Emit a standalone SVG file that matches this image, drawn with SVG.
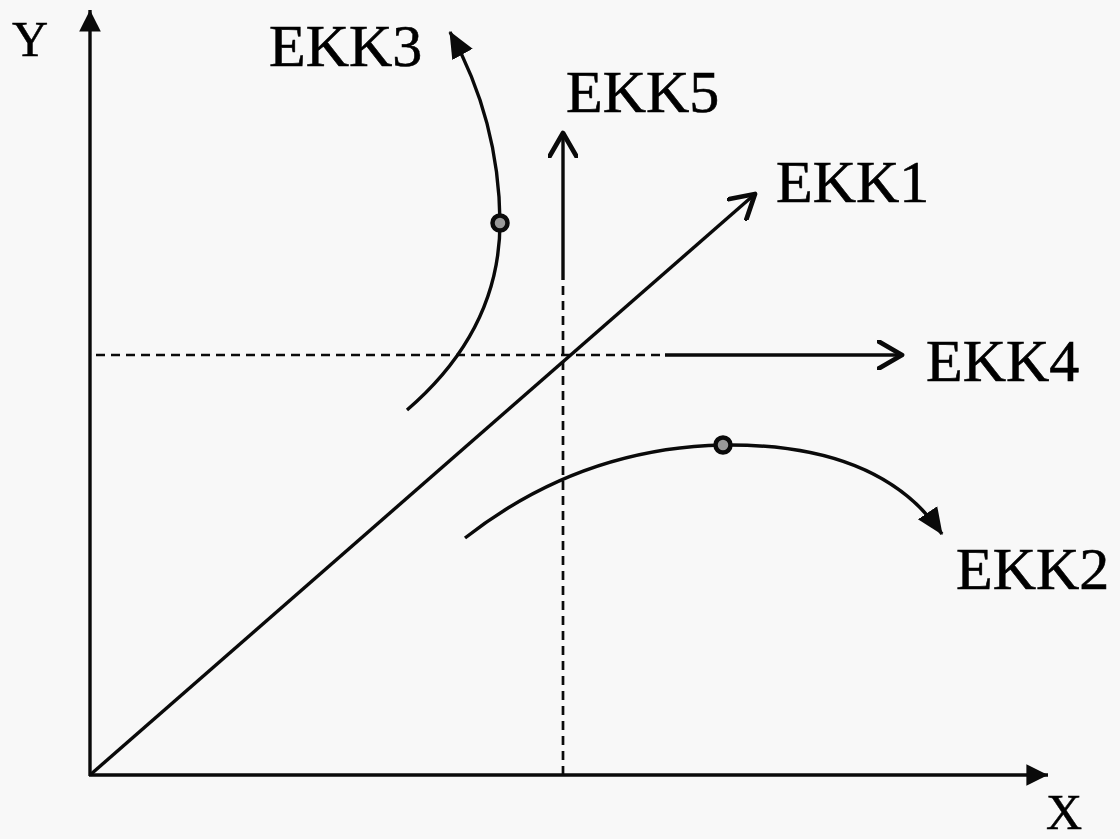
<svg xmlns="http://www.w3.org/2000/svg" width="1120" height="839" viewBox="0 0 1120 839">
<style>
.ln{stroke:#0a0a0a;stroke-width:3.4;fill:none}
.dash{stroke:#0a0a0a;stroke-width:2.7;fill:none;stroke-dasharray:9 6}
.lbl{font-family:'Liberation Serif',Tinos,'Times New Roman',serif;font-size:60px;fill:#000;stroke:#000;stroke-width:0.6}
.ax{font-family:'Liberation Serif',Tinos,'Times New Roman',serif;font-size:50px;fill:#000;stroke:#000;stroke-width:0.5}
.dot{fill:#999;stroke:#0a0a0a;stroke-width:4.5}
</style>
<defs>
<marker id="fill" markerUnits="userSpaceOnUse" markerWidth="24" markerHeight="24" refX="18" refY="9" orient="auto" viewBox="0 0 20 18">
<path d="M0,0 L18,9 L0,18 Z" fill="#0a0a0a"/>
</marker>
<marker id="fillc" markerUnits="userSpaceOnUse" markerWidth="28" markerHeight="28" refX="22" refY="11" orient="auto" viewBox="0 0 24 22">
<path d="M0,1 L23,11 L0,21 Z" fill="#0a0a0a"/>
</marker>
<marker id="open" markerUnits="userSpaceOnUse" markerWidth="30" markerHeight="30" refX="20" refY="12" orient="auto" viewBox="0 0 24 24">
<path d="M1,1 L20,12 L1,23" fill="none" stroke="#0a0a0a" stroke-width="3.8" stroke-linecap="round" stroke-linejoin="round"/>
</marker>
</defs>
<rect width="1120" height="839" fill="#f8f8f8"/>
<g id="connectors">
<line id="y-axis" class="ln" x1="90" y1="776" x2="90" y2="10" marker-end="url(#fill)"/>
<line id="x-axis" class="ln" x1="89" y1="775" x2="1048" y2="775" marker-end="url(#fill)"/>
<line id="ekk1-line" class="ln" x1="90" y1="775" x2="755" y2="194" marker-end="url(#open)"/>
<line id="ekk5-dash" class="dash" x1="563" y1="775" x2="563" y2="280"/>
<line id="ekk5-line" class="ln" x1="563" y1="280" x2="563" y2="133" marker-end="url(#open)"/>
<line id="ekk4-dash" class="dash" x1="96" y1="355" x2="665" y2="355"/>
<line id="ekk4-line" class="ln" x1="665" y1="355" x2="902" y2="355" marker-end="url(#open)"/>
<path id="ekk3-curve" class="ln" d="M407,410 Q500,330 500,222 Q499,120 450,32" marker-end="url(#fillc)"/>
<path id="ekk2-curve" class="ln" d="M465,538 Q580,448 723,445 Q880,443 942,534" marker-end="url(#fillc)"/>
</g>
<g id="dot-ekk3"><circle class="dot" cx="500" cy="223" r="7.5"/></g>
<g id="dot-ekk2"><circle class="dot" cx="723" cy="445" r="7.5"/></g>
<g id="label-y"><text class="ax" x="12" y="56">Y</text></g>
<g id="label-x"><text class="ax" x="1046" y="829">X</text></g>
<g id="label-ekk3"><text class="lbl" x="269" y="66">EKK3</text></g>
<g id="label-ekk5"><text class="lbl" x="566" y="112">EKK5</text></g>
<g id="label-ekk1"><text class="lbl" x="776" y="202">EKK1</text></g>
<g id="label-ekk4"><text class="lbl" x="926" y="381">EKK4</text></g>
<g id="label-ekk2"><text class="lbl" x="956" y="589">EKK2</text></g>
</svg>
